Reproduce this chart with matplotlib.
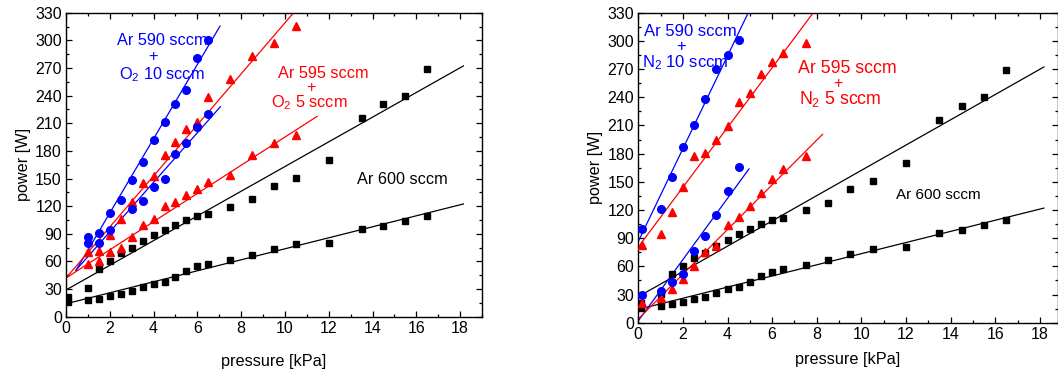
import numpy as np
import matplotlib
matplotlib.use("Agg")
from matplotlib import pyplot as plt
from matplotlib.ticker import MultipleLocator

plt.rcParams['font.family'] = ['Liberation Sans', 'DejaVu Sans']
plt.rcParams['mathtext.fontset'] = 'custom'
plt.rcParams['mathtext.rm'] = 'Liberation Sans'
plt.rcParams['mathtext.it'] = 'Liberation Sans:italic'

BLUE = "#0000ff"
RED = "#ff0000"
BLACK = "#000000"

# Ar 600 sccm (same measurement in both panels)
p_ar = [0.1, 1, 1.5, 2, 2.5, 3, 3.5, 4, 4.5, 5, 5.5, 6, 6.5, 7.5, 8.5, 9.5, 10.5, 12, 13.5, 14.5, 15.5, 16.5]
w_ar_hi = [21, 31, 52, 60, 69, 74.5, 82, 88.5, 94, 100, 105, 109.5, 111.5, 119.5, 127.5, 142, 150.5, 170, 215.5, 230.5, 240, 269]
w_ar_lo = [16, 18, 19.5, 22, 25, 27.5, 32, 36, 38, 43, 49.5, 54.5, 57, 61.5, 67, 73, 79, 80.5, 95, 98.5, 104, 109.5]

# Ar 590 + O2 10
p_o2_10_a = [1, 1.5, 2, 2.5, 3, 3.5, 4, 4.5, 5, 5.5, 6, 6.5]
w_o2_10_a = [86.5, 90.5, 112.5, 127, 148, 167.5, 192, 211, 230.5, 246.5, 280.5, 300.5]
p_o2_10_b = [1, 1.5, 2, 3, 3.5, 4, 4.5, 5, 5.5, 6, 6.5]
w_o2_10_b = [80.5, 80.5, 94.5, 117, 125.5, 141, 150, 177, 189, 205.5, 220.5]

# Ar 595 + O2 5
p_o2_5 = [1, 1.5, 2, 2.5, 3, 3.5, 4, 4.5, 5, 5.5, 6, 6.5, 7.5, 8.5, 9.5, 10.5]
w_o2_5_a = [70, 71, 88.5, 106.5, 125, 145.5, 153, 175, 190, 203.5, 211.5, 239, 258.5, 283.5, 297.5, 316]
w_o2_5_b = [57, 60.5, 70, 75, 86, 99, 106, 120.5, 124, 132, 138.5, 146, 154, 176, 189, 197]

# Ar 590 + N2 10
p_n2_10 = [0.15, 1, 1.5, 2, 2.5, 3, 3.5, 4, 4.5]
w_n2_10_a = [100, 121, 155, 187.5, 210, 238, 270, 285.5, 300.5]
w_n2_10_b = [30, 34, 43.5, 52, 76, 92, 115, 140, 165.5]

# Ar 595 + N2 5
p_n2_5 = [0.15, 1, 1.5, 2, 2.5, 3, 3.5, 4, 4.5, 5, 5.5, 6, 6.5, 7.5]
w_n2_5_a = [83, 94, 118, 144.5, 178, 181, 195, 209.5, 235, 244.5, 264.5, 278, 287, 298]
w_n2_5_b = [20.5, 26, 35.5, 46.5, 60.5, 75.5, 82, 104.5, 112.5, 124, 138, 152.5, 163.5, 177]

# linear fits: (intercept, slope, p_start, p_end)
fits_o2 = [
    (29, 13.4, 0, 18.15, BLACK),
    (14, 5.97, 0, 18.15, BLACK),
    (32, 40.3, 0.45, 7.03, BLUE),
    (38.3, 26.9, 0.45, 7.05, BLUE),
    (42, 27.7, 0, 11, RED),
    (42, 15.3, 0, 11.47, RED),
]
fits_n2 = [
    (27.7, 13.45, 0, 18.18, BLACK),
    (14.2, 5.93, 0, 18.18, BLACK),
    (86.5, 49.4, 0, 5.2, BLUE),
    (2, 32.6, 0, 4.96, BLUE),
    (80.6, 31.8, 0, 8.2, RED),
    (4, 23.8, 0, 8.26, RED),
]


def draw_fits(ax, fits):
    for b, m, x0, x1, c in fits:
        x = np.array([x0, x1])
        ax.plot(x, b + m * x, color=c, lw=0.9, zorder=2)


def setup_axes(ax, xmax, xpad):
    ax.set_xlim(0, xmax)
    ax.set_ylim(0, 330)
    ax.xaxis.set_major_locator(MultipleLocator(2))
    ax.xaxis.set_minor_locator(MultipleLocator(1))
    ax.yaxis.set_major_locator(MultipleLocator(30))
    ax.yaxis.set_minor_locator(MultipleLocator(15))
    ax.tick_params(which='both', direction='in', top=True, right=True,
                   labeltop=False, labelright=False, width=0.9)
    ax.tick_params(which='major', length=4.5, labelsize=11.5, pad=3)
    ax.tick_params(which='minor', length=2.5)
    for s in ax.spines.values():
        s.set_linewidth(1.0)
    ax.set_xlabel("pressure [kPa]", fontsize=11.7, labelpad=xpad)
    ax.set_ylabel("power [W]", fontsize=11.7, labelpad=3)


def label(ax, x, y, s, c, fs):
    ax.text(x, y, s, color=c, fontsize=fs, ha='center', va='center_baseline')


fig = plt.figure(figsize=(10.58, 3.72), dpi=100)
ax1 = fig.add_axes([0.0624, 0.1487, 0.3932, 0.8172])
ax2 = fig.add_axes([0.6033, 0.1325, 0.3964, 0.8333])

# oxygen panel
draw_fits(ax1, fits_o2)
ax1.plot(p_ar, w_ar_hi, 's', color=BLACK, ms=4.5, zorder=3)
ax1.plot(p_ar, w_ar_lo, 's', color=BLACK, ms=4.5, zorder=3)
ax1.plot(p_o2_5, w_o2_5_a, '^', color=RED, ms=5.8, zorder=3)
ax1.plot(p_o2_5, w_o2_5_b, '^', color=RED, ms=5.8, zorder=3)
ax1.plot(p_o2_10_a, w_o2_10_a, 'o', color=BLUE, ms=5.5, zorder=3)
ax1.plot(p_o2_10_b, w_o2_10_b, 'o', color=BLUE, ms=5.5, zorder=3)
setup_axes(ax1, 19, 13)
label(ax1, 4.38, 301.5, "Ar 590 sccm", BLUE, 11.7)
label(ax1, 3.95, 284, "+", BLUE, 11.7)
label(ax1, 4.38, 265.6, "O$_2$ 10 sccm", BLUE, 11.7)
label(ax1, 11.76, 265.7, "Ar 595 sccm", RED, 11.7)
label(ax1, 11.19, 250.5, "+", RED, 11.7)
label(ax1, 11.12, 235.3, "O$_2$ 5 sccm", RED, 11.7)
label(ax1, 15.34, 150.6, "Ar 600 sccm", BLACK, 11.7)

# nitrogen panel
draw_fits(ax2, fits_n2)
ax2.plot(p_ar, w_ar_hi, 's', color=BLACK, ms=4.5, zorder=3)
ax2.plot(p_ar, w_ar_lo, 's', color=BLACK, ms=4.5, zorder=3)
ax2.plot(p_n2_5, w_n2_5_a, '^', color=RED, ms=5.8, zorder=3)
ax2.plot(p_n2_5, w_n2_5_b, '^', color=RED, ms=5.8, zorder=3)
ax2.plot(p_n2_10, w_n2_10_a, 'o', color=BLUE, ms=5.5, zorder=3)
ax2.plot(p_n2_10, w_n2_10_b, 'o', color=BLUE, ms=5.5, zorder=3)
setup_axes(ax2, 18.8, 7)
label(ax2, 2.32, 311.6, "Ar 590 sccm", BLUE, 12)
label(ax2, 1.94, 295.6, "+", BLUE, 12)
label(ax2, 2.09, 279.6, "N$_2$ 10 sccm", BLUE, 12)
label(ax2, 9.35, 273, "Ar 595 sccm", RED, 12.8)
label(ax2, 8.95, 256.5, "+", RED, 11.5)
label(ax2, 9.03, 240.6, "N$_2$ 5 sccm", RED, 12.8)
label(ax2, 13.47, 137.7, "Ar 600 sccm", BLACK, 11)

fig.savefig("out.png", dpi=100)
